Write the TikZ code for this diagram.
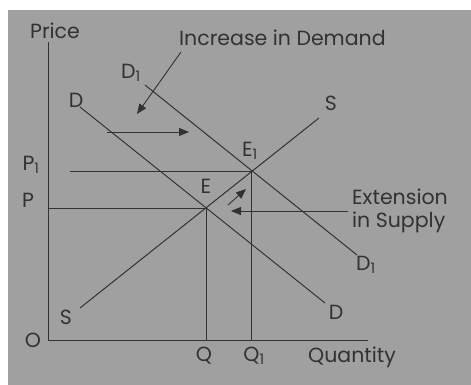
\documentclass[tikz,border=0pt]{standalone}
\usepackage{fontspec}
\setmainfont{Poppins}
\usetikzlibrary{arrows.meta}
\definecolor{paper}{RGB}{160,160,160}
\definecolor{ink}{RGB}{50,50,50}
\begin{document}
\begin{tikzpicture}[x=1pt,y=-1pt,
  lbl/.style={inner sep=0pt,text=ink,font=\fontsize{20.5}{23}\selectfont},
  curve/.style={draw=ink,line width=1pt},
  guide/.style={draw=ink,line width=0.8pt},
  arr/.style={draw=ink,line width=0.9pt,-{Triangle[length=10pt,width=8pt]}}]
\useasboundingbox (0,0) rectangle (471,385);
\fill[white] (0,0) rectangle (471,385);
\fill[paper] (8,10) rectangle (471,385);
% axes
\coordinate (top) at (48,42);
\coordinate (O) at (48,340);
\coordinate (xend) at (368,340);
\draw[guide] (top) -- (O) -- (xend);
% curves
\coordinate (Da) at (80,107);
\coordinate (Db) at (325,303);
\coordinate (D1a) at (145,85);
\coordinate (D1b) at (357,255);
\coordinate (Sa) at (80,308);
\coordinate (Sb) at (319,118);
\coordinate (E) at (206,208);
\coordinate (E1) at (251,171);
\draw[curve] (Da) -- (Db);
\draw[curve] (D1a) -- (D1b);
\draw[curve] (Sa) -- (Sb);
% guides
\coordinate (Pax) at (48,208);
\coordinate (P1s) at (70,171);
\coordinate (Qax) at (206,340);
\coordinate (Q1ax) at (251,340);
\draw[guide] (Pax) -- (E);
\draw[guide] (P1s) -- (E1);
\draw[guide] (E) -- (Qax);
\draw[guide] (E1) -- (Q1ax);
% arrows
\coordinate (idA) at (181,52);
\coordinate (idB) at (137,114);
\draw[arr] (idA) -- (idB);
\coordinate (hA) at (107,132);
\coordinate (hB) at (189,132);
\draw[arr] (hA) -- (hB);
\coordinate (sA) at (228,205);
\coordinate (sB) at (246,189);
\draw[arr] (sA) -- (sB);
\coordinate (eA) at (348,211);
\coordinate (eB) at (231,211);
\draw[arr] (eA) -- (eB);
% labels
\node[lbl] (price) at (55,31) {Price};
\node[lbl,anchor=west] (inc) at (179,38) {Increase in Demand};
\node[lbl] (lD) at (76,100) {D};
\node[lbl] (lD1) at (131,73) {D\textsubscript{1}};
\node[lbl] (lS) at (331,103) {S};
\node[lbl] (lS2) at (66,317) {S};
\node[lbl] (lE) at (206,186) {E};
\node[lbl] (lE1) at (250,151) {E\textsubscript{1}};
\node[lbl] (lP1) at (31,165) {P\textsubscript{1}};
\node[lbl] (lP) at (28,200) {P};
\node[lbl] (lO) at (33,340) {O};
\node[lbl] (lQ) at (204,356) {Q};
\node[lbl] (lQ1) at (254,356) {Q\textsubscript{1}};
\node[lbl] (lqty) at (352,357) {Quantity};
\node[lbl,anchor=west] (ext1) at (352,197) {Extension};
\node[lbl,anchor=west] (ext2) at (352,222) {in Supply};
\node[lbl] (lD1b) at (366,265) {D\textsubscript{1}};
\node[lbl] (lDb) at (336,312) {D};
\end{tikzpicture}
\end{document}
